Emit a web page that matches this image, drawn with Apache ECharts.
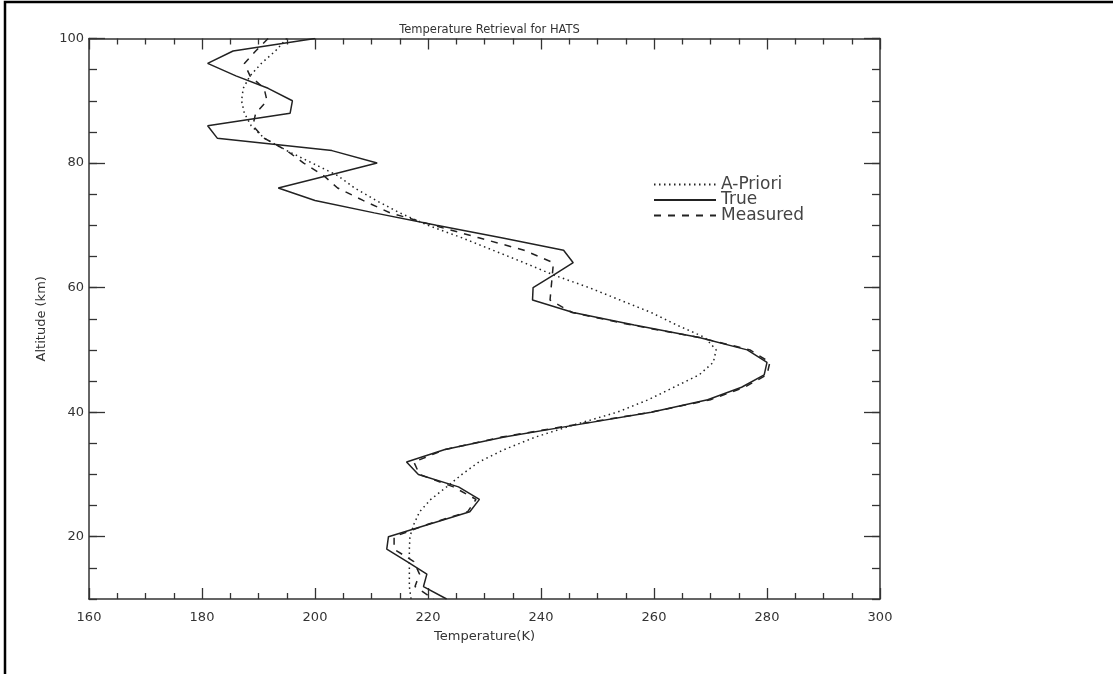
<!DOCTYPE html>
<html>
<head>
<meta charset="utf-8">
<script src="https://cdn.jsdelivr.net/npm/echarts@6/dist/echarts.min.js"></script>
<style>
html,body{margin:0;padding:0;background:#fff;}
#chart{width:1113px;height:674px;}
</style>
</head>
<body>
<div id="chart"></div>
<script>
var altitudes = [100,98,96,94,92,90,88,86,84,82,80,78,76,74,72,70,68,66,64,62,60,58,56,54,52,50,48,46,44,42,40,38,36,34,32,30,28,26,24,22,20,18,16,14,12,10];
var aPriori = [195,193,190.5,188.5,187.3,187,187.5,188.7,191,195,199.5,204,207,210.8,215,220,226,231.5,237,242.3,248.5,254,259.5,264,269,271,270.5,268,263.5,259,253.5,246,239,233.5,229,226,223.3,220.5,218.5,217.5,216.8,216.7,216.7,216.7,216.7,217];
var trueT = [200,185.5,181,186,191.7,196,195.6,181,182.7,203,211,202.3,193.5,200,210.5,221.5,233,244,245.7,242.2,238.6,238.5,245.7,256.5,268,276.5,280,279.5,275.5,269.5,259.5,246.5,233.5,223,216.2,218.3,225.4,229.1,227.4,220.2,213,212.7,216.3,219.8,219.2,223.3];
var measured = [191.7,189.5,187.5,188.5,191,191.5,189.5,189,191,195,198,201.5,204,208.5,213.3,221,229,237,242.2,242,241.8,241.6,245.5,256,268,277,280.5,280,276,270,259.5,246,233,223,217.5,218.5,224.5,228.5,227,220,214,214,217.5,218.5,217.7,221];
var yMajorTicks = [20,40,60,80,100];

function pairs(t){ return t.map(function(v,i){ return [v, altitudes[i]]; }); }

var FONT = 'DejaVu Sans';
var TXT = '#333';
var AX = '#333';

var chart = echarts.init(document.getElementById('chart'), null, {renderer:'canvas'});
chart.setOption({
  animation:false,
  backgroundColor:'#fff',
  title:{text:'Temperature Retrieval for HATS', left:484.5, textAlign:'center', top:19,
    textStyle:{fontFamily:FONT, fontSize:11.5, fontWeight:'normal', color:TXT}},
  grid:{left:89, top:38.5, right:233, bottom:75},
  legend:{
    orient:'vertical', left:648, top:171,
    itemWidth:62, itemHeight:12, itemGap:-1.5,
    itemStyle:{opacity:0, borderWidth:0},
    textStyle:{fontFamily:FONT, fontSize:17, color:'#444'},
    data:['A-Priori','True','Measured']
  },
  xAxis:[
    {type:'value', position:'bottom', min:160, max:300, interval:20,
     name:'Temperature(K)', nameLocation:'middle', nameGap:31,
     nameTextStyle:{fontFamily:FONT, fontSize:13, color:TXT},
     axisLine:{show:true, lineStyle:{color:AX, width:1.5}},
     axisTick:{show:true, inside:true, length:11, lineStyle:{color:AX, width:1.3}},
     minorTick:{show:true, splitNumber:4, length:6, lineStyle:{color:AX, width:1.3}},
     axisLabel:{fontFamily:FONT, fontSize:13, color:TXT, margin:12},
     splitLine:{show:false}, minorSplitLine:{show:false}},
    {type:'value', position:'top', min:160, max:300, interval:20,
     axisLine:{show:true, lineStyle:{color:AX, width:1.5}},
     axisTick:{show:true, inside:true, length:11, lineStyle:{color:AX, width:1.3}},
     minorTick:{show:true, splitNumber:4, length:6, lineStyle:{color:AX, width:1.3}},
     axisLabel:{show:false}, splitLine:{show:false}}
  ],
  yAxis:[
    {type:'value', position:'left', min:10, max:100, interval:5,
     name:'Altitude (km)', nameLocation:'middle', nameGap:35, nameRotate:90,
     nameTextStyle:{fontFamily:FONT, fontSize:13, color:TXT},
     axisLine:{show:true, lineStyle:{color:AX, width:1.5}},
     axisTick:{show:true, inside:true, length:8, lineStyle:{color:AX, width:1.3}},
     axisLabel:{fontFamily:FONT, fontSize:13, color:TXT, margin:5,
       formatter:function(v){ return (v % 20 === 0) ? String(v) : ''; }},
     splitLine:{show:false}},
    {type:'value', position:'left', min:10, max:100,
     axisLine:{show:false},
     axisTick:{show:true, inside:true, length:16, customValues:yMajorTicks, lineStyle:{color:AX, width:1.3}},
     axisLabel:{show:false}, splitLine:{show:false}},
    {type:'value', position:'right', min:10, max:100, interval:5,
     axisLine:{show:true, lineStyle:{color:AX, width:1.5}},
     axisTick:{show:true, inside:true, length:8, lineStyle:{color:AX, width:1.3}},
     axisLabel:{show:false}, splitLine:{show:false}},
    {type:'value', position:'right', min:10, max:100,
     axisLine:{show:false},
     axisTick:{show:true, inside:true, length:16, customValues:yMajorTicks, lineStyle:{color:AX, width:1.3}},
     axisLabel:{show:false}, splitLine:{show:false}}
  ],
  series:[
    {name:'A-Priori', type:'line', data:pairs(aPriori), showSymbol:false, symbol:'none',
     lineStyle:{color:'#222', width:1.5, type:[1.5,3.5]}, itemStyle:{color:'#222'}},
    {name:'True', type:'line', data:pairs(trueT), showSymbol:false, symbol:'none',
     lineStyle:{color:'#222', width:1.5, type:'solid'}, itemStyle:{color:'#222'}},
    {name:'Measured', type:'line', data:pairs(measured), showSymbol:false, symbol:'none',
     lineStyle:{color:'#222', width:1.5, type:[7,7]}, itemStyle:{color:'#222'}}
  ],
  graphic:[
    {type:'rect', shape:{x:5, y:2, width:1200, height:700}, silent:true,
     style:{fill:'none', stroke:'#000', lineWidth:2.5}}
  ]
});
</script>
</body>
</html>
